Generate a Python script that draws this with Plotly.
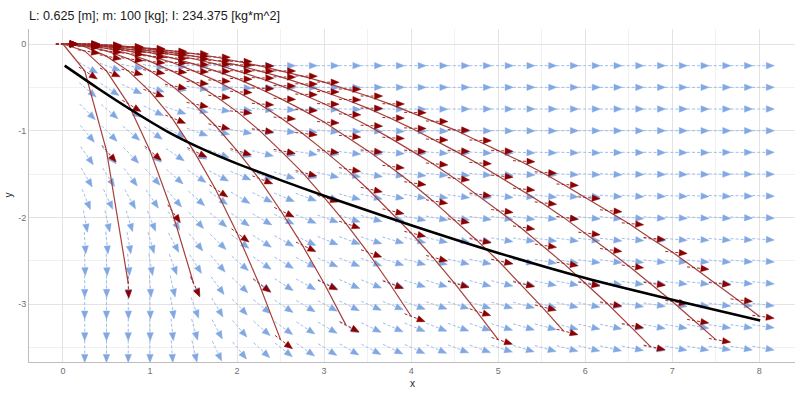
import numpy as np
import plotly.graph_objects as go

title_text = "L: 0.625 [m]; m: 100 [kg]; I: 234.375 [kg*m^2]"

# ---- blue direction field: grid and angles (degrees below horizontal) ----
grid_x = [0.25, 0.5, 0.75, 1.0, 1.25, 1.5, 1.75, 2.0, 2.25, 2.5, 2.75, 3.0, 3.25, 3.5, 3.75, 4.0,
          4.25, 4.5, 4.75, 5.0, 5.25, 5.5, 5.75, 6.0, 6.25, 6.5, 6.75, 7.0, 7.25, 7.5, 7.75, 8.0]
grid_y = [-0.25, -0.5, -0.75, -1.0, -1.25, -1.5, -1.75, -2.0, -2.25, -2.5, -2.75, -3.0, -3.25, -3.5]
field_angle = [
    [30, 20, 12, 8, 5, 3, 2, 1, 1, 0, 0, 0, 0, 0, 0, 0, 0, 0, 0, 0, 0, 0, 0, 0, 0, 0, 0, 0, 0, 0, 0, 0],
    [40, 33, 25, 18, 12, 8, 5, 3, 2, 2, 1, 1, 1, 0, 0, 0, 0, 0, 0, 0, 0, 0, 0, 0, 0, 0, 0, 0, 0, 0, 0, 0],
    [45, 40, 33, 26, 19, 13, 9, 6, 5, 4, 3, 2, 2, 1, 1, 1, 1, 0, 0, 0, 0, 0, 0, 0, 0, 0, 0, 0, 0, 0, 0, 0],
    [50, 45, 40, 35, 27, 20, 15, 11, 9, 7, 6, 5, 4, 3, 3, 2, 2, 2, 1, 1, 1, 1, 0, 0, 0, 0, 0, 0, 0, 0, 0, 0],
    [55, 50, 46, 41, 34, 27, 21, 17, 14, 11, 9, 8, 7, 6, 5, 4, 4, 3, 3, 3, 2, 2, 2, 2, 1, 1, 1, 1, 1, 0, 0, 0],
    [60, 57, 53, 48, 41, 34, 28, 23, 20, 18, 15, 13, 11, 10, 8, 7, 6, 6, 5, 5, 4, 4, 3, 3, 3, 2, 2, 2, 2, 1, 1, 1],
    [68, 65, 61, 56, 49, 42, 36, 31, 26, 23, 20, 17, 15, 13, 11, 10, 9, 8, 8, 7, 6, 6, 5, 5, 4, 4, 3, 3, 3, 3, 2, 2],
    [80, 77, 73, 68, 58, 48, 40, 35, 30, 27, 23, 20, 18, 16, 14, 12, 11, 10, 9, 8, 8, 7, 7, 6, 6, 5, 5, 4, 4, 4, 3, 3],
    [86, 84, 80, 74, 62, 52, 44, 38, 33, 29, 25, 22, 20, 18, 16, 14, 13, 12, 11, 10, 9, 8, 8, 7, 7, 6, 6, 5, 5, 5, 4, 4],
    [88, 87, 85, 80, 70, 58, 49, 41, 35, 31, 27, 24, 22, 20, 18, 16, 15, 14, 13, 12, 11, 10, 9, 8, 8, 7, 7, 6, 6, 6, 5, 5],
    [90, 89, 88, 86, 77, 65, 54, 44, 37, 33, 29, 26, 24, 22, 20, 18, 17, 16, 15, 14, 13, 12, 11, 10, 9, 8, 8, 7, 7, 6, 6, 6],
    [90, 90, 89, 88, 81, 70, 59, 47, 39, 34, 31, 28, 26, 24, 22, 20, 19, 18, 17, 16, 15, 14, 13, 12, 11, 10, 9, 9, 8, 8, 7, 7],
    [90, 90, 90, 89, 84, 74, 62, 49, 41, 36, 33, 30, 28, 26, 24, 22, 21, 20, 19, 17, 16, 15, 14, 13, 12, 11, 11, 10, 10, 9, 9, 8],
    [90, 90, 90, 90, 86, 77, 65, 51, 43, 38, 35, 32, 30, 28, 26, 24, 23, 21, 20, 18, 17, 16, 15, 14, 13, 12, 12, 11, 11, 10, 10, 10],
]

# ---- red trajectories (sampled every 0.25 in x, starting at x = 0) ----
traj_step = 0.25
traj_y = [
    [0, -0.31, -1.23, -2.76],
    [0, -0.08, -0.31, -0.69, -1.23, -1.92, -2.76],
    [0, -0.03, -0.14, -0.31, -0.55, -0.85, -1.23, -1.67, -2.18, -2.76, -3.41],
    [0, -0.02, -0.08, -0.17, -0.31, -0.48, -0.69, -0.94, -1.23, -1.55, -1.92, -2.32, -2.76, -3.24],
    [0, -0.01, -0.05, -0.11, -0.20, -0.31, -0.44, -0.60, -0.78, -0.99, -1.23, -1.48, -1.77, -2.07,
     -2.40, -2.76, -3.14],
    [0, -0.01, -0.03, -0.08, -0.14, -0.21, -0.31, -0.42, -0.55, -0.69, -0.85, -1.03, -1.23, -1.44,
     -1.67, -1.92, -2.18, -2.46, -2.76, -3.08, -3.41],
    [0, -0.01, -0.03, -0.06, -0.10, -0.16, -0.23, -0.31, -0.40, -0.51, -0.63, -0.76, -0.90, -1.06,
     -1.23, -1.41, -1.60, -1.81, -2.03, -2.26, -2.50, -2.76, -3.03, -3.31],
    [0, 0.0, -0.02, -0.04, -0.08, -0.12, -0.17, -0.23, -0.31, -0.39, -0.48, -0.58, -0.69, -0.81,
     -0.94, -1.08, -1.23, -1.38, -1.55, -1.73, -1.92, -2.11, -2.32, -2.53, -2.76, -2.99, -3.24, -3.49],
    [0, 0.0, -0.02, -0.03, -0.06, -0.10, -0.14, -0.19, -0.24, -0.31, -0.38, -0.46, -0.55, -0.64,
     -0.74, -0.85, -0.97, -1.10, -1.23, -1.37, -1.52, -1.67, -1.83, -2.00, -2.18, -2.37, -2.56,
     -2.76, -2.97, -3.19, -3.41],
    [0, 0.0, -0.01, -0.03, -0.05, -0.08, -0.11, -0.15, -0.20, -0.25, -0.31, -0.37, -0.44, -0.52,
     -0.60, -0.69, -0.79, -0.89, -0.99, -1.11, -1.23, -1.35, -1.48, -1.62, -1.77, -1.92, -2.07,
     -2.24, -2.40, -2.58, -2.76, -2.95, -3.14],
]

# ---- black curve ----
black_x = [0.02, 0.4, 0.8, 1.2, 1.6, 2.0, 2.5, 3.0, 4.0, 5.0, 6.0, 7.0, 8.01]
black_y = [-0.25, -0.51, -0.77, -1.01, -1.21, -1.38, -1.57, -1.75, -2.09, -2.41, -2.70, -2.95, -3.19]

x_ticks = [0, 1, 2, 3, 4, 5, 6, 7, 8]
x_ticktext = ["0", "1", "2", "3", "4", "5", "6", "7", "8"]
y_ticks = [0, -1, -2, -3]
y_ticktext = ["0", "-1", "-2", "-3"]

# ---------------------------------------------------------------------------
X_RANGE = [-0.39, 8.41]
Y_RANGE = [-3.668, 0.173]
W, H = 800, 399
ML, MR, MT, MB = 29, 5, 29, 37
SX = (W - ML - MR) / (X_RANGE[1] - X_RANGE[0])
SY = (H - MT - MB) / (Y_RANGE[1] - Y_RANGE[0])

BACK, FWD, HEAD, HW = 7.0, 15.0, 8.0, 3.2

ang_arr = np.array(field_angle, dtype=float)
gx = np.array(grid_x)
gy = np.array(grid_y)
# extended table for lookups at trajectory points (y = 0 row horizontal)
ext_y = np.concatenate([[0.0], gy])
ext_x = np.concatenate([[0.0], gx])
ext = np.vstack([np.zeros(len(gx)), ang_arr])
ext = np.hstack([ext[:, :1], ext])


def lookup_angle(x, y):
    xi = np.clip(x, ext_x[0], ext_x[-1])
    yi = np.clip(-y, 0, -ext_y[-1])
    fy = np.interp(yi, -ext_y, np.arange(len(ext_y)))
    fx = np.interp(xi, ext_x, np.arange(len(ext_x)))
    i0, j0 = int(np.floor(fy)), int(np.floor(fx))
    i1, j1 = min(i0 + 1, len(ext_y) - 1), min(j0 + 1, len(ext_x) - 1)
    ty, tx = fy - i0, fx - j0
    a = (ext[i0, j0] * (1 - tx) + ext[i0, j1] * tx) * (1 - ty) + \
        (ext[i1, j0] * (1 - tx) + ext[i1, j1] * tx) * ty
    return a


def arrows(points):
    sx, sy, hx, hy = [], [], [], []
    for (px, py, ang) in points:
        a = np.deg2rad(ang)
        ux, uy = np.cos(a), -np.sin(a)  # pixel-space unit dir, y up
        nx, ny = -uy, ux
        tail = (px - BACK * ux / SX, py - BACK * uy / SY)
        tip = (px + FWD * ux / SX, py + FWD * uy / SY)
        base = (tip[0] - HEAD * ux / SX, tip[1] - HEAD * uy / SY)
        sx += [tail[0], base[0], None]
        sy += [tail[1], base[1], None]
        l = (base[0] + HW * nx / SX, base[1] + HW * ny / SY)
        r = (base[0] - HW * nx / SX, base[1] - HW * ny / SY)
        hx += [tip[0], l[0], r[0], tip[0], None]
        hy += [tip[1], l[1], r[1], tip[1], None]
    return sx, sy, hx, hy


blue_pts = []
for i, yv in enumerate(grid_y):
    for j, xv in enumerate(grid_x):
        blue_pts.append((xv, yv, field_angle[i][j]))
bsx, bsy, bhx, bhy = arrows(blue_pts)

red_pts = []
line_x, line_y = [], []
for ys in traj_y:
    xs = [traj_step * k for k in range(len(ys))]
    line_x += xs + [None]
    line_y += ys + [None]
    for xv, yv in zip(xs, ys):
        red_pts.append((xv, yv, lookup_angle(xv, yv)))
rsx, rsy, rhx, rhy = arrows(red_pts)

fig = go.Figure()
fig.add_trace(go.Scatter(x=bsx, y=bsy, mode="lines", line=dict(color="#9FBDEA", width=1, dash="3px,2px"),
                         hoverinfo="skip"))
fig.add_trace(go.Scatter(x=bhx, y=bhy, mode="lines", fill="toself", fillcolor="#82A8E3",
                         line=dict(color="#82A8E3", width=0.5), hoverinfo="skip"))
fig.add_trace(go.Scatter(x=line_x, y=line_y, mode="lines", line=dict(color="#A4403C", width=1.2),
                         hoverinfo="skip"))
fig.add_trace(go.Scatter(x=rsx, y=rsy, mode="lines", line=dict(color="#9E2B2B", width=1, dash="3px,2px"),
                         hoverinfo="skip"))
fig.add_trace(go.Scatter(x=rhx, y=rhy, mode="lines", fill="toself", fillcolor="#8B0000",
                         line=dict(color="#8B0000", width=0.5), hoverinfo="skip"))
fig.add_trace(go.Scatter(x=black_x, y=black_y, mode="lines",
                         line=dict(color="black", width=2.6, shape="spline", smoothing=1.0),
                         hoverinfo="skip"))

axis_common = dict(showline=True, linecolor="#BDBDBD", linewidth=1, zeroline=False, ticks="",
                   gridcolor="#E3E3E3", gridwidth=1, automargin=False,
                   tickfont=dict(size=9, color="#6E6E6E", family="Liberation Sans, Arial"))
fig.update_layout(
    width=W, height=H, margin=dict(l=ML, r=MR, t=MT, b=MB, autoexpand=False),
    paper_bgcolor="white", plot_bgcolor="white", showlegend=False,
    font=dict(family="Liberation Sans, Arial", color="#222"),
    title=dict(text=title_text, x=29 / W, xanchor="left", xref="container",
               y=1 - 16 / H, yanchor="middle", yref="container",
               font=dict(size=12.6, color="#1a1a1a")),
    xaxis=dict(range=X_RANGE, tickvals=x_ticks, ticktext=x_ticktext,
               minor=dict(tick0=0, dtick=0.5, showgrid=True, gridcolor="#F1F1F1"), **axis_common),
    yaxis=dict(range=Y_RANGE, tickvals=y_ticks, ticktext=y_ticktext,
               minor=dict(tick0=0, dtick=0.5, showgrid=True, gridcolor="#F1F1F1"), **axis_common),
    annotations=[
        dict(text="x", xref="paper", yref="paper", x=0.5, y=-21 / (H - MT - MB), showarrow=False,
             xanchor="center", yanchor="middle", font=dict(size=10, color="#222")),
        dict(text="y", xref="paper", yref="paper", x=-21 / (W - ML - MR), y=0.5, showarrow=False,
             textangle=-90, xanchor="center", yanchor="middle", font=dict(size=10, color="#222")),
    ],
)

fig.write_html("out.html", config={"displayModeBar": False},
               post_script="document.body.style.margin='0px';document.body.style.overflow='hidden';")
